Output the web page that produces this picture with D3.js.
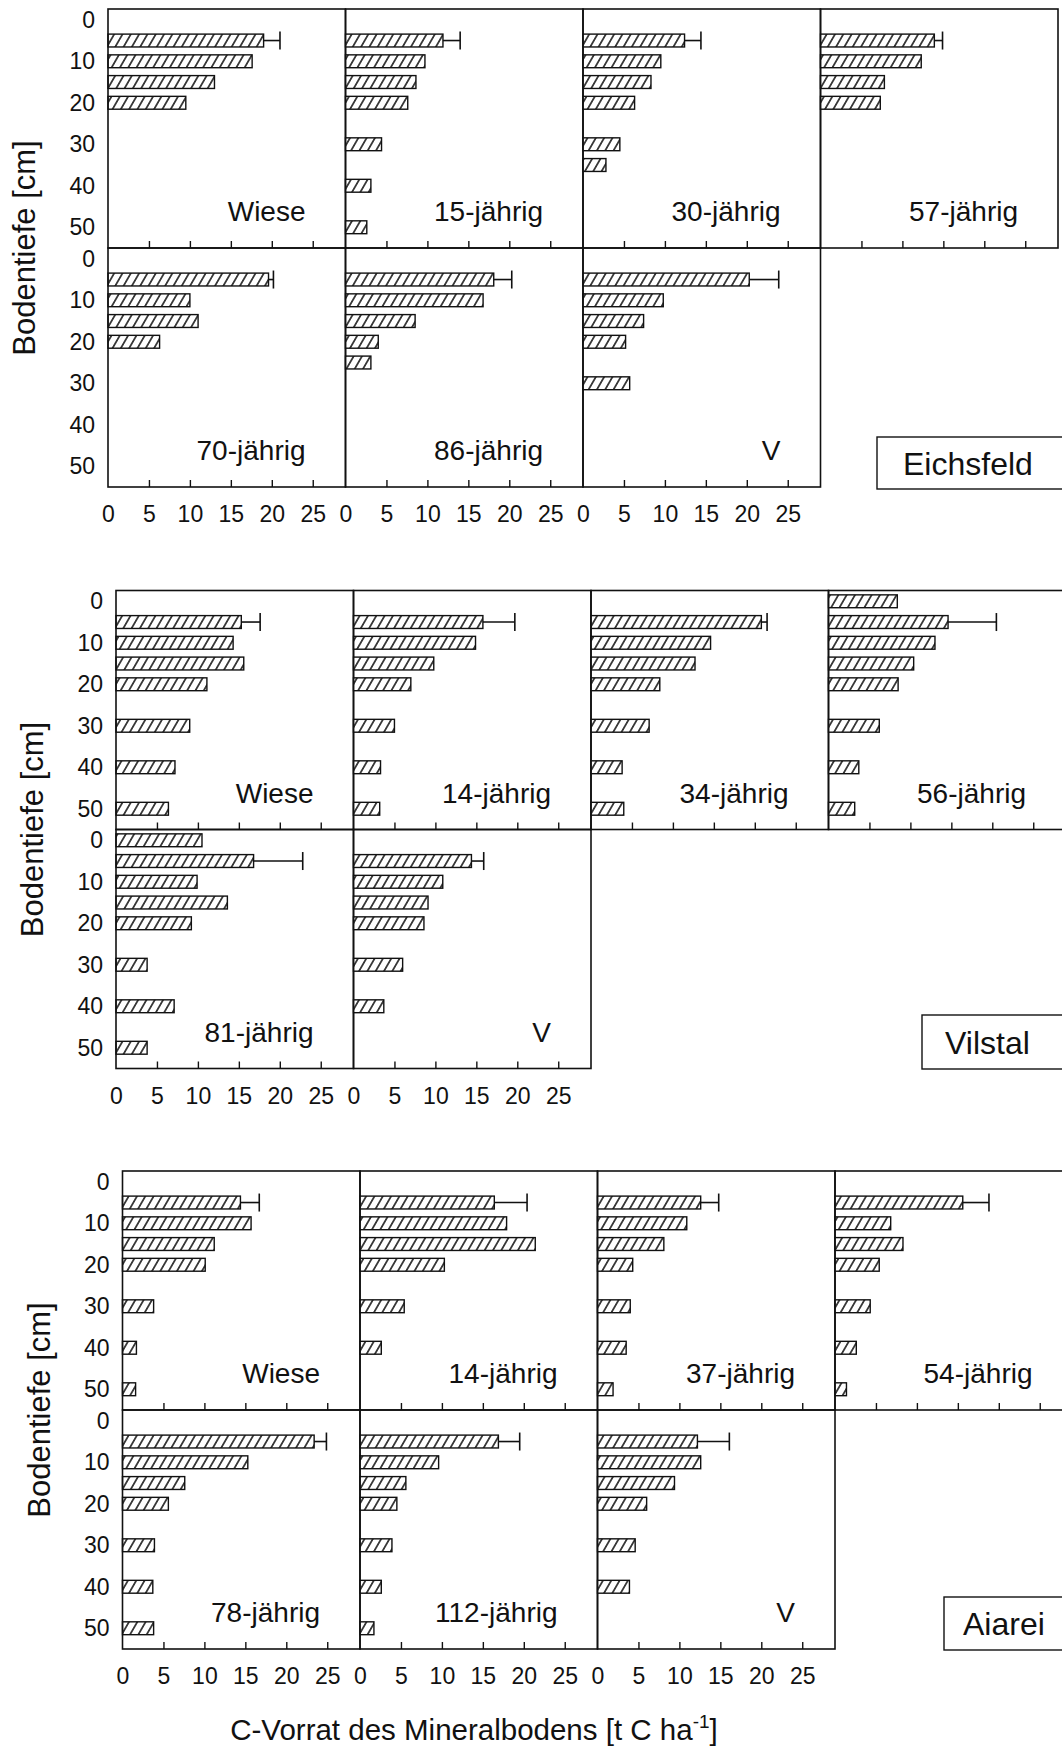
<!DOCTYPE html>
<html>
<head>
<meta charset="utf-8">
<script src="https://cdn.jsdelivr.net/npm/d3@7"></script>
<style>
  body { margin: 0; background: #fff; }
  svg { display: block; }
  text { font-family: "Liberation Sans", Arial, sans-serif; fill: #111; }
</style>
</head>
<body>
<svg id="chart" width="1062" height="1747"></svg>
<script>
// Depth levels (cm) at which soil carbon stocks are plotted
const depthLevels = [0, 5, 10, 15, 20, 25, 30, 35, 40, 50];
const xTickLabels = [0, 5, 10, 15, 20, 25];
const xInnerTicks = [5, 10, 15, 20, 25];
const yTickLabels = [0, 10, 20, 30, 40, 50];

// C stock of the mineral soil [t C / ha], one row per stand, aligned with depthLevels
const eichsfeldStands = ["Wiese", "15-jährig", "30-jährig", "57-jährig", "70-jährig", "86-jährig", "V"];
const eichsfeldStock = [
  [null, 19.0, 17.6, 13.0, 9.5, null, null, null, null, null],
  [null, 11.9, 9.7, 8.6, 7.6, null, 4.4, null, 3.1, 2.6],
  [null, 12.4, 9.5, 8.3, 6.3, null, 4.5, 2.8, null, null],
  [null, 13.9, 12.3, 7.8, 7.3, null, null, null, null, null],
  [null, 19.6, 10.0, 11.0, 6.3, null, null, null, null, null],
  [null, 18.1, 16.8, 8.5, 4.0, 3.1, null, null, null, null],
  [null, 20.3, 9.8, 7.4, 5.2, null, 5.7, null, null, null]
];
// standard deviation of the 0-5 cm layer
const eichsfeldSd = [2.0, 2.1, 2.0, 1.0, 0.6, 2.2, 3.6];

const vilstalStands = ["Wiese", "14-jährig", "34-jährig", "56-jährig", "81-jährig", "V"];
const vilstalStock = [
  [null, 15.3, 14.3, 15.6, 11.1, null, 9.0, null, 7.2, 6.4],
  [null, 15.8, 14.9, 9.8, 7.0, null, 5.0, null, 3.3, 3.2],
  [null, 20.8, 14.6, 12.7, 8.4, null, 7.1, null, 3.8, 4.0],
  [8.4, 14.6, 13.0, 10.4, 8.5, null, 6.2, null, 3.7, 3.2],
  [10.5, 16.8, 9.9, 13.6, 9.2, null, 3.8, null, 7.1, 3.8],
  [null, 14.4, 10.9, 9.1, 8.6, null, 6.0, null, 3.7, null]
];
const vilstalSd = [2.3, 3.9, 0.7, 5.9, 6.0, 1.5];

const aiareiStands = ["Wiese", "14-jährig", "37-jährig", "54-jährig", "78-jährig", "112-jährig", "V"];
const aiareiStock = [
  [null, 14.4, 15.7, 11.2, 10.1, null, 3.8, null, 1.7, 1.6],
  [null, 16.4, 17.9, 21.4, 10.3, null, 5.4, null, 2.6, null],
  [null, 12.6, 10.9, 8.1, 4.3, null, 4.0, null, 3.5, 1.9],
  [null, 15.6, 6.8, 8.3, 5.4, null, 4.3, null, 2.6, 1.4],
  [null, 23.4, 15.3, 7.6, 5.6, null, 3.9, null, 3.7, 3.8],
  [null, 16.9, 9.6, 5.6, 4.5, null, 3.9, null, 2.6, 1.7],
  [null, 12.2, 12.6, 9.4, 6.0, null, 4.6, null, 3.9, null]
];
const aiareiSd = [2.3, 4.0, 2.2, 3.2, 1.5, 2.6, 3.9];

// ---- layout ----
const W = 237.5, H = 239;           // one panel
const x = d3.scaleLinear().domain([0, 29]).range([0, W]);
const y = d3.scaleLinear().domain([-2.6, 55]).range([0, H]);
const barH = y(3.1) - y(0);
const ink = "#111";
const font = '"Liberation Sans", Arial, sans-serif';

const sites = [
  { name: "Eichsfeld", stands: eichsfeldStands, stock: eichsfeldStock, sd: eichsfeldSd,
    x0: 108, y0: 9, box: { x: 877, y: 437, w: 186, h: 52, tx: 903 } },
  { name: "Vilstal", stands: vilstalStands, stock: vilstalStock, sd: vilstalSd,
    x0: 116, y0: 590.5, box: { x: 922, y: 1015, w: 150, h: 54, tx: 945 } },
  { name: "Aiarei", stands: aiareiStands, stock: aiareiStock, sd: aiareiSd,
    x0: 122.5, y0: 1171, box: { x: 944, y: 1597, w: 130, h: 53, tx: 963 } }
];

const svg = d3.select("#chart");

// diagonal hatching used to fill the bars
const defs = svg.append("defs");
const pat = defs.append("pattern")
  .attr("id", "hatch")
  .attr("patternUnits", "userSpaceOnUse")
  .attr("width", 7.2).attr("height", 10)
  .attr("patternTransform", "rotate(30)");
pat.append("rect").attr("width", 7.2).attr("height", 10).attr("fill", "#fff");
pat.append("line")
  .attr("x1", 3.6).attr("y1", -1).attr("x2", 3.6).attr("y2", 11)
  .attr("stroke", ink).attr("stroke-width", 1.5);

function drawSite(site) {
  const g = svg.append("g").attr("transform", `translate(${site.x0},${site.y0})`);

  site.stands.forEach((stand, i) => {
    const row = i < 4 ? 0 : 1;
    const col = i < 4 ? i : i - 4;
    const p = g.append("g").attr("transform", `translate(${col * W},${row * H})`);

    const bars = depthLevels
      .map((depth, k) => ({ depth, value: site.stock[i][k] }))
      .filter(d => d.value != null);

    p.selectAll("rect.bar").data(bars).join("rect")
      .attr("class", "bar")
      .attr("x", x(0))
      .attr("y", d => y(d.depth) - barH / 2)
      .attr("width", d => x(d.value) - x(0))
      .attr("height", barH)
      .attr("fill", "url(#hatch)")
      .attr("stroke", ink)
      .attr("stroke-width", 1.4);

    // error bar on the 0-5 cm layer
    const top = bars.find(d => d.depth === 5);
    const hi = top.value + site.sd[i];
    const ey = y(top.depth);
    p.append("line")
      .attr("x1", x(top.value)).attr("x2", x(hi))
      .attr("y1", ey).attr("y2", ey)
      .attr("stroke", ink).attr("stroke-width", 1.6);
    p.append("line")
      .attr("x1", x(hi)).attr("x2", x(hi))
      .attr("y1", ey - 9).attr("y2", ey + 9)
      .attr("stroke", ink).attr("stroke-width", 1.6);

    // frame
    p.append("rect")
      .attr("width", W).attr("height", H)
      .attr("fill", "none").attr("stroke", ink).attr("stroke-width", 1.6);

    // inward ticks on the bottom edge
    const tk = p.append("g").attr("transform", `translate(0,${H})`)
      .call(d3.axisBottom(x).tickValues(xInnerTicks).tickSize(-7).tickFormat(""));
    tk.select(".domain").remove();
    tk.selectAll("line").attr("stroke", ink).attr("stroke-width", 1.4);

    // numeric x labels under the lower row
    if (row === 1) {
      const ax = p.append("g").attr("transform", `translate(0,${H})`)
        .call(d3.axisBottom(x).tickValues(xTickLabels).tickSize(0).tickPadding(19));
      ax.select(".domain").remove();
      ax.selectAll("text").attr("font-size", 23).attr("fill", ink).style("font-family", font);
    }

    // depth labels on the left column
    if (col === 0) {
      const ay = p.append("g")
        .call(d3.axisLeft(y).tickValues(yTickLabels).tickSize(0).tickPadding(13));
      ay.select(".domain").remove();
      ay.selectAll("text").attr("font-size", 23).attr("fill", ink).style("font-family", font);
    }

    // stand name
    p.append("text")
      .attr("x", W - 40).attr("y", H - 27)
      .attr("text-anchor", "end")
      .attr("font-size", 28)
      .text(stand);
  });

  // vertical axis title centred on the row boundary
  svg.append("text")
    .attr("transform", `translate(${site.x0 - 84},${site.y0 + H}) rotate(-90)`)
    .attr("text-anchor", "middle")
    .attr("dy", "0.36em")
    .attr("font-size", 31)
    .text("Bodentiefe [cm]");

  // site name box
  const b = site.box;
  svg.append("rect")
    .attr("x", b.x).attr("y", b.y).attr("width", b.w).attr("height", b.h)
    .attr("fill", "#fff").attr("stroke", ink).attr("stroke-width", 1.4);
  svg.append("text")
    .attr("x", b.tx).attr("y", b.y + b.h / 2 + 11.5)
    .attr("font-size", 32)
    .text(site.name);
}

sites.forEach(drawSite);

// horizontal axis title
const xt = svg.append("text")
  .attr("x", 474).attr("y", 1740)
  .attr("text-anchor", "middle")
  .attr("font-size", 29.5);
xt.append("tspan").text("C-Vorrat des Mineralbodens [t C ha");
xt.append("tspan").attr("dy", -12).attr("font-size", 19).text("-1");
xt.append("tspan").attr("dy", 12).text("]");
</script>
</body>
</html>
